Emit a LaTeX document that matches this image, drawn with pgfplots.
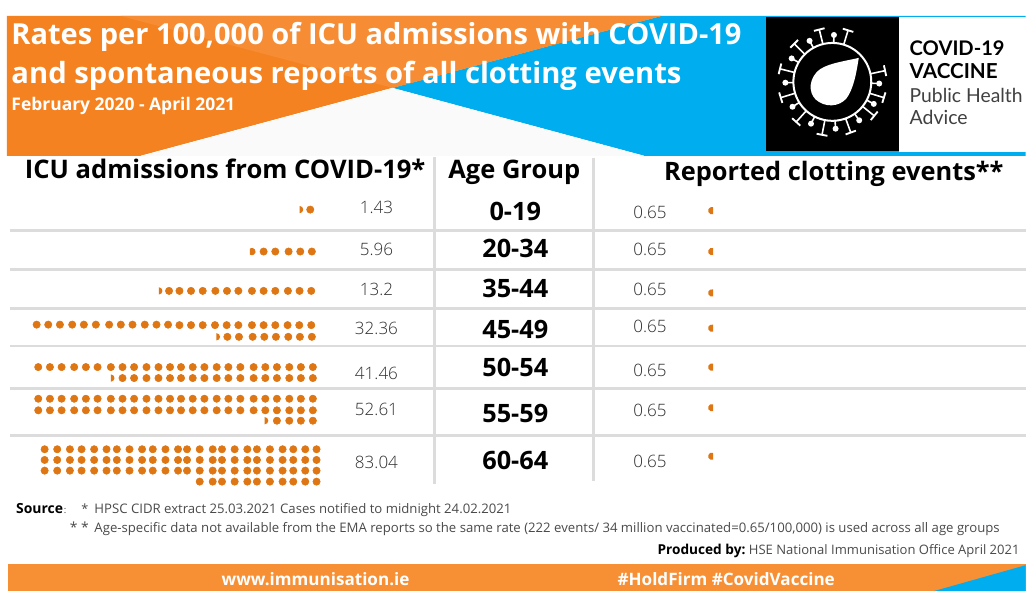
\documentclass[border=0pt]{standalone}
\usepackage{fontspec}
\usepackage{graphicx}
\usepackage{pgfplots}
\pgfplotsset{compat=1.18}
\usetikzlibrary{calc}
\setmainfont{Open Sans}
\newfontfamily\lato{Lato}
\newfontfamily\oslight{Open Sans Light}

\definecolor{hseorange}{HTML}{F58220}
\definecolor{hselight}{HTML}{F68D35}
\definecolor{hsebar}{HTML}{F79035}
\definecolor{hseblue}{HTML}{00AEEF}
\definecolor{dotcol}{HTML}{DD7613}
\definecolor{rulecol}{HTML}{DCDCDC}
\definecolor{valcol}{HTML}{4A4A4A}
\definecolor{ratecol}{HTML}{2E2E2E}

% partial dots: flat edge sits on the coordinate
\pgfdeclareplotmark{partR}{%
  \pgfpathmoveto{\pgfqpoint{0pt}{-\pgfplotmarksize}}%
  \pgfpatharc{-90}{90}{\pgfplotmarksize}%
  \pgfpathclose\pgfusepathqfill}
\pgfdeclareplotmark{chordR}{%
  \pgfpathmoveto{\pgfpointpolar{125}{\pgfplotmarksize}}%
  \pgfpatharc{125}{-125}{\pgfplotmarksize}%
  \pgfpathclose\pgfusepathqfill}
\pgfdeclareplotmark{chordL}{%
  \pgfpathmoveto{\pgfpointpolar{70}{\pgfplotmarksize}}%
  \pgfpatharc{70}{290}{\pgfplotmarksize}%
  \pgfpathclose\pgfusepathqfill}

% scale a text to a width given in reference pixels
\newcommand{\fitw}[2]{\resizebox{#1\dimexpr0.75pt\relax}{!}{#2}}

\begin{document}
\begin{tikzpicture}
% ---- background, in reference pixels
\begin{scope}[x=0.75pt,y=-0.75pt,yshift=444.75pt]
\fill[white] (0,0) rectangle (1027,593);
\fill[hseblue] (662,16) -- (1027,16) -- (1027,156) -- (645,156) -- (393,88) -- cycle;
\fill[hseorange] (7,16) -- (662,16) -- (393,88) -- (141,156) -- (7,156) -- cycle;
\fill[hselight] (121,16) -- (662,16) -- (393,88) -- cycle;
\fill[white!98!black] (393,88) -- (645,156) -- (141,156) -- cycle;
\fill[white] (900.7,17) rectangle (1027,152);
\fill[black] (766.7,17) rectangle (900.7,151);
% table rules
\foreach \yy in {230.8,269.8,309.2,346.5,388.8,435.8}
  \draw[rulecol,line width=2.2pt] (10,\yy) -- (1027,\yy);
\draw[rulecol,line width=2.2pt] (434.8,157) -- (434.8,485);
\draw[rulecol,line width=2.2pt] (594.5,158) -- (594.5,482);
% footer bar
\fill[hsebar] (8,564.5) rectangle (1027,592);
\fill[hseblue] (935,592) -- (1027,566) -- (1027,592) -- cycle;
\end{scope}

\begin{axis}[
  scale only axis,
  width=770.25pt, height=444.75pt,
  xmin=0, xmax=1027, ymin=-0.6, ymax=592.4,
  y dir=reverse,
  hide axis,
  clip=false,
]
% ICU admissions, full dots per age group
\addplot[only marks, mark=*, mark size=2.75pt, dotcol] coordinates {(310.7,209.3)};
\addplot[only marks, mark=*, mark size=2.75pt, dotcol] coordinates {
  (264,251.3)(275.7,251.3)(289,251.3)(300.7,251.3)(312.3,251.3)};
\addplot[only marks, mark=*, mark size=2.75pt, dotcol] coordinates {
  (169.3,290.7)(179.7,290.7)(191.3,290.7)(203,290.7)(215.7,290.7)(227.3,290.7)(238.7,290.7)
  (252.3,290.7)(264,290.7)(275.7,290.7)(288.3,290.7)(300,290.7)(311.7,290.7)};
\addplot[only marks, mark=*, mark size=2.75pt, dotcol] coordinates {
  (36.7,324.5)(48.3,324.5)(60,324.5)(72.3,324.5)(84,324.5)(96,324.5)(109.3,324.5)(121,324.5)
  (132.7,324.5)(145,324.5)(156.7,324.5)(168.3,324.5)(179.7,325)(191.3,325)(203,325)(215.3,325)
  (227,325)(238.7,325)(252.3,325)(264,325)(275.7,325)(288,325)(299.7,325)(311.7,325)
  (227.7,336.7)(239.3,336.7)(253,336.7)(264.7,336.7)(276.3,336.7)(288.7,336.7)(300.3,336.7)(312.3,336.7)};
\addplot[only marks, mark=*, mark size=2.75pt, dotcol] coordinates {
  (38.3,367)(50,367)(61.7,367)(74.3,367)(86,367)(97.7,367)(111,367)(122.7,367)
  (134.3,367)(146.7,367)(158.7,367)(170.3,367)(181.3,367)(193,367)(204.7,367)(217,367)
  (228.7,367)(240.7,367)(254,367)(265.7,367)(277.3,367)(289.7,367)(301.3,367)(313.3,367)
  (122.7,378)(134.3,378)(146.7,378)(158.7,378)(170.3,378)(181.3,378)(193,378)(204.7,378)(217,378)
  (228.7,378)(240.7,378)(254,378)(265.7,378)(277.3,378)(289.7,378)(301.3,378)(313.3,378)};
\addplot[only marks, mark=*, mark size=2.75pt, dotcol] coordinates {
  (38.3,398.7)(50,398.7)(61.7,398.7)(74.3,398.7)(86,398.7)(97.7,398.7)(111,398.7)(122.7,398.7)
  (134.3,398.7)(146.7,398.7)(158.7,398.7)(170.3,398.7)(181.3,398.7)(193,398.7)(204.7,398.7)(217,398.7)
  (228.7,398.7)(240.7,398.7)(254,398.7)(265.7,398.7)(277.3,398.7)(289.7,398.7)(301.3,398.7)(313.3,398.7)
  (38.3,410.3)(50,410.3)(61.7,410.3)(74.3,410.3)(86,410.3)(97.7,410.3)(111,410.3)(122.7,410.3)
  (134.3,410.3)(146.7,410.3)(158.7,410.3)(170.3,410.3)(181.3,410.3)(193,410.3)(204.7,410.3)(217,410.3)
  (228.7,410.3)(240.7,410.3)(254,410.3)(265.7,410.3)(277.3,410.3)(289.7,410.3)(301.3,410.3)(313.3,410.3)
  (277.3,420.7)(289.7,420.7)(301.3,420.7)(313.3,420.7)};
\addplot[only marks, mark=*, mark size=2.75pt, dotcol] coordinates {
  (44.7,449.3)(57.3,449.3)(70,449.3)(81.7,449.3)(94.3,449.3)(106.7,449.3)(117,449.3)(129.7,449.3)
  (142.3,449.3)(153,449.3)(165.7,449.3)(178.3,449.3)(187.3,449.3)(200,449.3)(213,449.3)(222.3,449.3)
  (235,449.3)(247.7,449.3)(257.3,449.3)(270.3,449.3)(283,449.3)(293.7,449.3)(305.7,449.3)(317,449.3)
  (44.7,460)(57.3,460)(70,460)(81.7,460)(94.3,460)(106.7,460)(117,460)(129.7,460)
  (142.3,460)(153,460)(165.7,460)(178.3,460)(187.3,460)(200,460)(213,460)(222.3,460)
  (235,460)(247.7,460)(257.3,460)(270.3,460)(283,460)(293.7,460)(305.7,460)(317,460)
  (44.7,470.7)(57.3,470.7)(70,470.7)(81.7,470.7)(94.3,470.7)(106.7,470.7)(117,470.7)(129.7,470.7)
  (142.3,470.7)(153,470.7)(165.7,470.7)(178.3,470.7)(187.3,470.7)(200,470.7)(213,470.7)(222.3,470.7)
  (235,470.7)(247.7,470.7)(257.3,470.7)(270.3,470.7)(283,470.7)(293.7,470.7)(305.7,470.7)(317,470.7)
  (200,481.7)(213,481.7)(222.3,481.7)(235,481.7)(247.7,481.7)(257.3,481.7)(270.3,481.7)(283,481.7)(293.7,481.7)(305.7,481.7)(317,481.7)};
% partial dots at the end of each row
\addplot[only marks, mark=partR, mark size=2.75pt, dotcol] coordinates {
  (300,209.3)(159,290.7)(216.7,336.7)(111,378)(265,420.7)};
\addplot[only marks, mark=chordR, mark size=2.75pt, dotcol] coordinates {(252.3,251.3)};
% reported clotting events, 0.65 in every group
\addplot[only marks, mark=chordL, mark size=2.75pt, dotcol] coordinates {
  (712.8,210.3)(712.8,251.3)(712.8,292.7)(712.8,328)(712.8,367)(712.8,407.7)(712.8,456.3)};
\end{axis}

% ---- texts, in reference pixels, one pixel lower and to the right of measured
\begin{scope}[x=0.75pt,y=-0.75pt,yshift=444pt,xshift=0.75pt,every node/.style={inner sep=0pt,outer sep=0pt}]
\node[anchor=base west,text=white] at (10.5,43.5) {\fitw{731}{\bfseries Rates per 100,000 of ICU admissions with COVID-19}};
\node[anchor=base west,text=white] at (10.5,82.5) {\fitw{671}{\bfseries and spontaneous reports of all clotting events}};
\node[anchor=base west,text=white] at (10.5,110) {\fitw{224}{\bfseries February 2020 - April 2021}};

\node[anchor=base west] at (24,177.5) {\fitw{401}{\bfseries ICU admissions from COVID-19*}};
\node[anchor=base west] at (448,177.5) {\fitw{132}{\bfseries Age Group}};
\node[anchor=base west] at (664,179.5) {\fitw{340}{\bfseries Reported clotting events**}};

% rates, left column
\foreach \v/\yy in {1.43/212.8,5.96/254.5,13.2/295.2,32.36/333.9,41.46/379.5,52.61/415.5,83.04/467.9}
  \node[anchor=base,text=ratecol,font=\oslight\fontsize{12.8pt}{14pt}\selectfont] at (376,\yy) {\v};
% age groups
\foreach \v/\yy in {0-19/219.5,20-34/257.2,35-44/297.2,45-49/337.9,50-54/375.6,55-59/422.2,60-64/469.6}
  \node[anchor=base,font=\fontsize{19pt}{20pt}\selectfont\bfseries] at (515,\yy) {\v};
% rates, right column
\foreach \yy in {217.9,255.2,295.2,331.9,376.2,416.2,466.9}
  \node[anchor=base,text=ratecol,font=\oslight\fontsize{12.8pt}{14pt}\selectfont] at (650,\yy) {0.65};

% footnotes
\node[anchor=base west] at (15.2,513) {\fitw{47}{\bfseries Source}};
\node[anchor=base west,text=valcol] at (63,513) {\fitw{2.5}{:}};
\node[anchor=base west,text=valcol] at (80.5,513) {\fitw{7}{*}};
\node[anchor=base west,text=valcol] at (93.6,513) {\fitw{417.5}{HPSC CIDR extract 25.03.2021 Cases notified to midnight 24.02.2021}};
\node[anchor=base west,text=valcol] at (69,532.7) {\fitw{19}{* *}};
\node[anchor=base west,text=valcol] at (93.6,532.7) {\fitw{906.5}{Age-specific data not available from the EMA reports so the same rate (222 events/ 34 million vaccinated=0.65/100,000) is used across all age groups}};
\node[anchor=base west] at (657.5,554) {\fitw{88}{\bfseries Produced by:}};
\node[anchor=base west,text=valcol] at (749,554) {\fitw{271}{HSE National Immunisation Office April 2021}};
\node[anchor=base west,text=white] at (221,585.5) {\fitw{188}{\bfseries www.immunisation.ie}};
\node[anchor=base west,text=white] at (617.5,585.5) {\fitw{217.5}{\bfseries \#HoldFirm \#CovidVaccine}};

% logo text
\node[anchor=base west] at (910,54.5) {\fitw{95}{\lato\bfseries COVID-19}};
\node[anchor=base west] at (910,77.5) {\fitw{88}{\lato\bfseries VACCINE}};
\node[anchor=base west,text=black!75] at (910,101.5) {\fitw{113}{\lato Public Health}};
\node[anchor=base west,text=black!75] at (910,124) {\fitw{58}{\lato Advice}};
\end{scope}

% ---- logo: virus
\begin{scope}[x=0.75pt,y=-0.75pt,yshift=444.75pt]
\draw[white,line width=1.5pt] (833.5,82) circle (39);
\fill[white] (860,58) .. controls (842,62) and (826,64) .. (818,72)
  .. controls (808,83) and (811,97) .. (820,102)
  .. controls (831,109) and (845,105) .. (850,95)
  .. controls (856,84) and (858,70) .. (860,58) -- cycle;
% y runs downwards here, so angles carry a minus sign
\foreach \a in {73,104,135,166,197,228,259,290,321,343,372}{
  \draw[white,line width=1.2pt] ($(833.5,82)+(-\a:39)$) -- ($(833.5,82)+(-\a:54)$);
  \draw[white,line width=1.4pt] ($(833.5,82)+(-\a:54)+(-\a+90:5.5)$) -- ($(833.5,82)+(-\a:54)+(-\a-90:5.5)$);
}
\foreach \a in {88,119,150,181,212,243,274,305,332,358}{
  \draw[white,line width=1.2pt] ($(833.5,82)+(-\a:39)$) -- ($(833.5,82)+(-\a:46)$);
  \fill[white] ($(833.5,82)+(-\a:47)$) circle (3);
}
\end{scope}
\end{tikzpicture}
\end{document}
